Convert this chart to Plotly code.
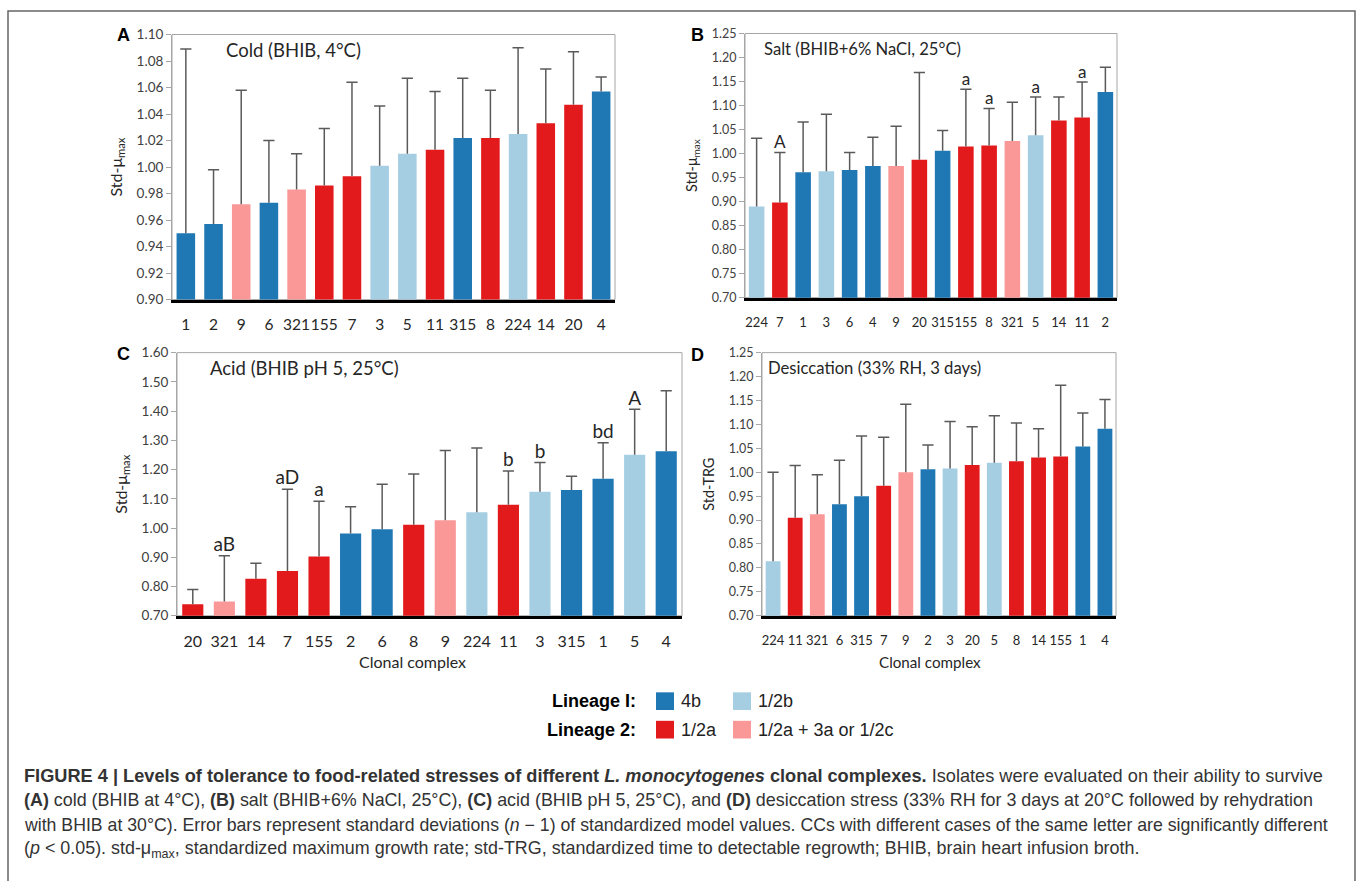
import plotly.graph_objects as go

W, H = 1357, 881

# ---------------- data ----------------
# serotype groups (colour classes) of clonal complexes
cc_4b = ["1", "2", "4", "6", "315"]
cc_12b = ["3", "5", "224"]
cc_12a = ["7", "8", "11", "14", "20", "155"]
cc_12a_3a = ["9", "321"]

cold_cc = ["1", "2", "9", "6", "321", "155", "7", "3", "5", "11", "315", "8", "224", "14", "20", "4"]
cold_val = [0.950, 0.957, 0.972, 0.973, 0.983, 0.986, 0.993, 1.001, 1.010, 1.013, 1.022, 1.022, 1.025, 1.033, 1.047, 1.057]
cold_sd = [0.139, 0.041, 0.086, 0.047, 0.027, 0.043, 0.071, 0.045, 0.057, 0.044, 0.045, 0.036, 0.065, 0.041, 0.040, 0.011]
cold_letters = [""] * 16

salt_cc = ["224", "7", "1", "3", "6", "4", "9", "20", "315", "155", "8", "321", "5", "14", "11", "2"]
salt_val = [0.890, 0.898, 0.961, 0.963, 0.966, 0.974, 0.974, 0.987, 1.006, 1.015, 1.017, 1.026, 1.038, 1.069, 1.075, 1.128]
salt_sd = [0.142, 0.104, 0.105, 0.119, 0.036, 0.060, 0.083, 0.182, 0.042, 0.119, 0.077, 0.081, 0.080, 0.049, 0.074, 0.052]
salt_letters = ["", "A", "", "", "", "", "", "", "", "a", "a", "", "a", "", "a", ""]

acid_cc = ["20", "321", "14", "7", "155", "2", "6", "8", "9", "224", "11", "3", "315", "1", "5", "4"]
acid_val = [0.739, 0.749, 0.827, 0.853, 0.903, 0.981, 0.996, 1.011, 1.027, 1.054, 1.080, 1.124, 1.130, 1.169, 1.251, 1.263]
acid_sd = [0.051, 0.156, 0.053, 0.280, 0.189, 0.092, 0.154, 0.174, 0.238, 0.220, 0.115, 0.100, 0.047, 0.123, 0.155, 0.207]
acid_letters = ["", "aB", "", "aD", "a", "", "", "", "", "", "b", "b", "", "bd", "A", ""]

desic_cc = ["224", "11", "321", "6", "315", "7", "9", "2", "3", "20", "5", "8", "14", "155", "1", "4"]
desic_val = [0.814, 0.905, 0.912, 0.933, 0.950, 0.972, 1.000, 1.006, 1.008, 1.015, 1.020, 1.023, 1.031, 1.033, 1.054, 1.091]
desic_sd = [0.186, 0.109, 0.083, 0.092, 0.126, 0.101, 0.142, 0.051, 0.098, 0.080, 0.098, 0.080, 0.060, 0.149, 0.070, 0.061]
desic_letters = [""] * 16

y_ranges = {"A": (0.90, 1.10, 0.02), "B": (0.70, 1.25, 0.05), "C": (0.70, 1.60, 0.10), "D": (0.70, 1.25, 0.05)}

# ---------------- styling ----------------
COL = {}
for c in cc_4b:
    COL[c] = "#1F77B4"
for c in cc_12b:
    COL[c] = "#A6CEE3"
for c in cc_12a:
    COL[c] = "#E31A1C"
for c in cc_12a_3a:
    COL[c] = "#FA9898"

ERR_COL = "#5A5A5A"
AX_GRAY = "#A6A6A6"
TXT = "#262626"
FONT = "Lato"


def px(x):
    return x / W


def py(y):
    return 1 - y / H


# plot-area boxes in pixels: (left, right, top, bottom)
boxes = {
    "A": (172, 615, 27, 297),
    "B": (745, 1117, 26, 295),
    "C": (177, 682, 351, 619),
    "D": (762, 1116, 351, 619),
}
# per-panel scale of the lettering (B and D are drawn slightly smaller)
fscale = {"A": 1.0, "B": 0.9, "C": 1.0, "D": 0.9}
xtick_size = {"A": 15.5, "B": 13, "C": 16, "D": 13}
ytick_size = {"A": 13.5, "B": 12.5, "C": 13.5, "D": 12.5}

panels = [
    ("A", cold_cc, cold_val, cold_sd, cold_letters, "Std-μ<sub>max</sub>", "Cold (BHIB, 4°C)"),
    ("B", salt_cc, salt_val, salt_sd, salt_letters, "Std-μ<sub>max</sub>", "Salt (BHIB+6% NaCl, 25°C)"),
    ("C", acid_cc, acid_val, acid_sd, acid_letters, "Std-μ<sub>max</sub>", "Acid (BHIB pH 5, 25°C)"),
    ("D", desic_cc, desic_val, desic_sd, desic_letters, "Std-TRG", "Desiccation (33% RH, 3 days)"),
]
title_offsets = {"A": 52, "B": 17, "C": 31, "D": 4}

fig = go.Figure()
annotations = []
shapes = []

for i, (key, ccs, vals, sds, letters, ytitle, title) in enumerate(panels, start=1):
    sfx = "" if i == 1 else str(i)
    xa, ya = "x" + sfx, "y" + sfx
    s = fscale[key]
    tops = [v + sd for v, sd in zip(vals, sds)]
    fig.add_trace(go.Bar(
        x=ccs, y=vals, xaxis=xa, yaxis=ya,
        marker=dict(color=[COL[c] for c in ccs], line=dict(width=0)),
        error_y=dict(type="data", symmetric=False, array=sds, arrayminus=[0] * len(sds),
                     width=0, thickness=1.5, color=ERR_COL),
        showlegend=False, hoverinfo="skip",
    ))
    # error bar caps
    fig.add_trace(go.Scatter(
        x=ccs, y=tops, xaxis=xa, yaxis=ya, mode="markers",
        marker=dict(symbol="line-ew", size=8, line=dict(width=1.5, color=ERR_COL)),
        showlegend=False, hoverinfo="skip",
    ))
    # significance letters
    if any(letters):
        fig.add_trace(go.Scatter(
            x=ccs, y=tops, xaxis=xa, yaxis=ya, mode="text", text=letters,
            textposition="top center", textfont=dict(family=FONT, size=19 * s, color=TXT),
            showlegend=False, hoverinfo="skip",
        ))
    l, r, t, b = boxes[key]
    y0, y1, dt = y_ranges[key]
    fig.update_layout(**{
        ("xaxis" + sfx): dict(
            domain=[px(l), px(r)], anchor=ya, type="category", categoryorder="array",
            categoryarray=ccs, range=[-0.5, len(ccs) - 0.5], tickangle=0,
            showline=True, linecolor="black", linewidth=3, ticks="", showgrid=False,
            tickfont=dict(family=FONT, size=xtick_size[key], color=TXT),
            ticklabelstandoff=9 if s == 1 else 11,
            fixedrange=True,
        ),
        ("yaxis" + sfx): dict(
            domain=[py(b), py(t)], anchor=xa, range=[y0, y1], dtick=dt, tick0=y0,
            tickformat=".2f", showline=True, linecolor=AX_GRAY, linewidth=1,
            ticks="outside", ticklen=5, tickcolor=AX_GRAY, showgrid=False, zeroline=False,
            tickfont=dict(family=FONT, size=ytick_size[key], color="#404040"),
            title=dict(text=ytitle, font=dict(family=FONT, size=16 * s, color=TXT), standoff=10),
            fixedrange=True,
        ),
    })
    shapes.append(dict(type="rect", xref=xa + " domain", yref=ya + " domain", x0=0, x1=1, y0=0, y1=1,
                       line=dict(color=AX_GRAY, width=1), layer="below"))
    # panel title inside plot
    annotations.append(dict(text=title, xref=xa + " domain", yref="paper", x=0, xshift=title_offsets[key],
                            y=py(t + 16), xanchor="left", yanchor="middle", showarrow=False,
                            font=dict(family=FONT, size=18.5 * s, color=TXT)))

# panel letters
for k, (x, y) in {"A": (123, 27), "B": (697, 27), "C": (123, 352), "D": (697, 353)}.items():
    annotations.append(dict(text="<b>" + k + "</b>", xref="paper", yref="paper", x=px(x), y=py(y),
                            xanchor="center", yanchor="middle", showarrow=False,
                            font=dict(family="Liberation Sans", size=18, color="black")))

# x axis titles
for x, s in ((412, 1.0), (930, 0.95)):
    annotations.append(dict(text="Clonal complex", xref="paper", yref="paper", x=px(x), y=py(666),
                            xanchor="center", yanchor="middle", showarrow=False,
                            font=dict(family=FONT, size=16 * s, color=TXT)))

# legend
LEG_FONT = dict(family="Liberation Sans", size=18, color="black")
legend_rows = [
    ("Lineage I:", [("#1F77B4", "4b"), ("#A6CEE3", "1/2b")], 706),
    ("Lineage 2:", [("#E31A1C", "1/2a"), ("#FA9898", "1/2a + 3a or 1/2c")], 735),
]
for label, items, yc in legend_rows:
    annotations.append(dict(text="<b>" + label + "</b>", xref="paper", yref="paper", x=px(638), y=py(yc),
                            xanchor="right", yanchor="middle", showarrow=False, font=LEG_FONT))
    for j, (col, txt) in enumerate(items):
        x0 = 656 + j * 77
        shapes.append(dict(type="rect", xref="paper", yref="paper", x0=px(x0), x1=px(x0 + 18),
                           y0=py(yc + 9), y1=py(yc - 9), fillcolor=col, line=dict(width=0)))
        annotations.append(dict(text=txt, xref="paper", yref="paper", x=px(x0 + 23), y=py(yc),
                                xanchor="left", yanchor="middle", showarrow=False,
                                font=dict(family="Liberation Sans", size=18, color="#222")))

# caption
cap_lines = [
    "<b>FIGURE 4 | Levels of tolerance to food-related stresses of different <i>L. monocytogenes</i> clonal complexes.</b> "
    "Isolates were evaluated on their ability to survive",
    "<b>(A)</b> cold (BHIB at 4°C), <b>(B)</b> salt (BHIB+6% NaCl, 25°C), <b>(C)</b> acid (BHIB pH 5, 25°C), and "
    "<b>(D)</b> desiccation stress (33% RH for 3 days at 20°C followed by rehydration",
    "with BHIB at 30°C). Error bars represent standard deviations (<i>n</i> − 1) of standardized model values. "
    "CCs with different cases of the same letter are significantly different",
    "(<i>p</i> &lt; 0.05). std-μ<sub>max</sub>, standardized maximum growth rate; std-TRG, standardized time to "
    "detectable regrowth; BHIB, brain heart infusion broth.",
]
cap_sizes = [18.2, 17.9, 17.7, 17.9]
for n, line in enumerate(cap_lines):
    annotations.append(dict(text=line, xref="paper", yref="paper", x=px(22), y=py(782 + 25 * n),
                            xanchor="left", yanchor="middle", showarrow=False, align="left",
                            font=dict(family="Liberation Sans", size=cap_sizes[n], color="#333")))

# outer frame
shapes.append(dict(type="rect", xref="paper", yref="paper", x0=px(8), x1=px(1355), y0=-0.05, y1=py(3),
                   line=dict(color="#666666", width=1.5), layer="below"))

fig.update_layout(
    width=W, height=H, margin=dict(l=0, r=0, t=0, b=0),
    paper_bgcolor="white", plot_bgcolor="white",
    bargap=0.33, annotations=annotations, shapes=shapes,
    font=dict(family=FONT),
)

fig.write_html("out.html", config={"displayModeBar": False},
               post_script="document.body.style.margin='0px';document.body.style.overflow='hidden';")
